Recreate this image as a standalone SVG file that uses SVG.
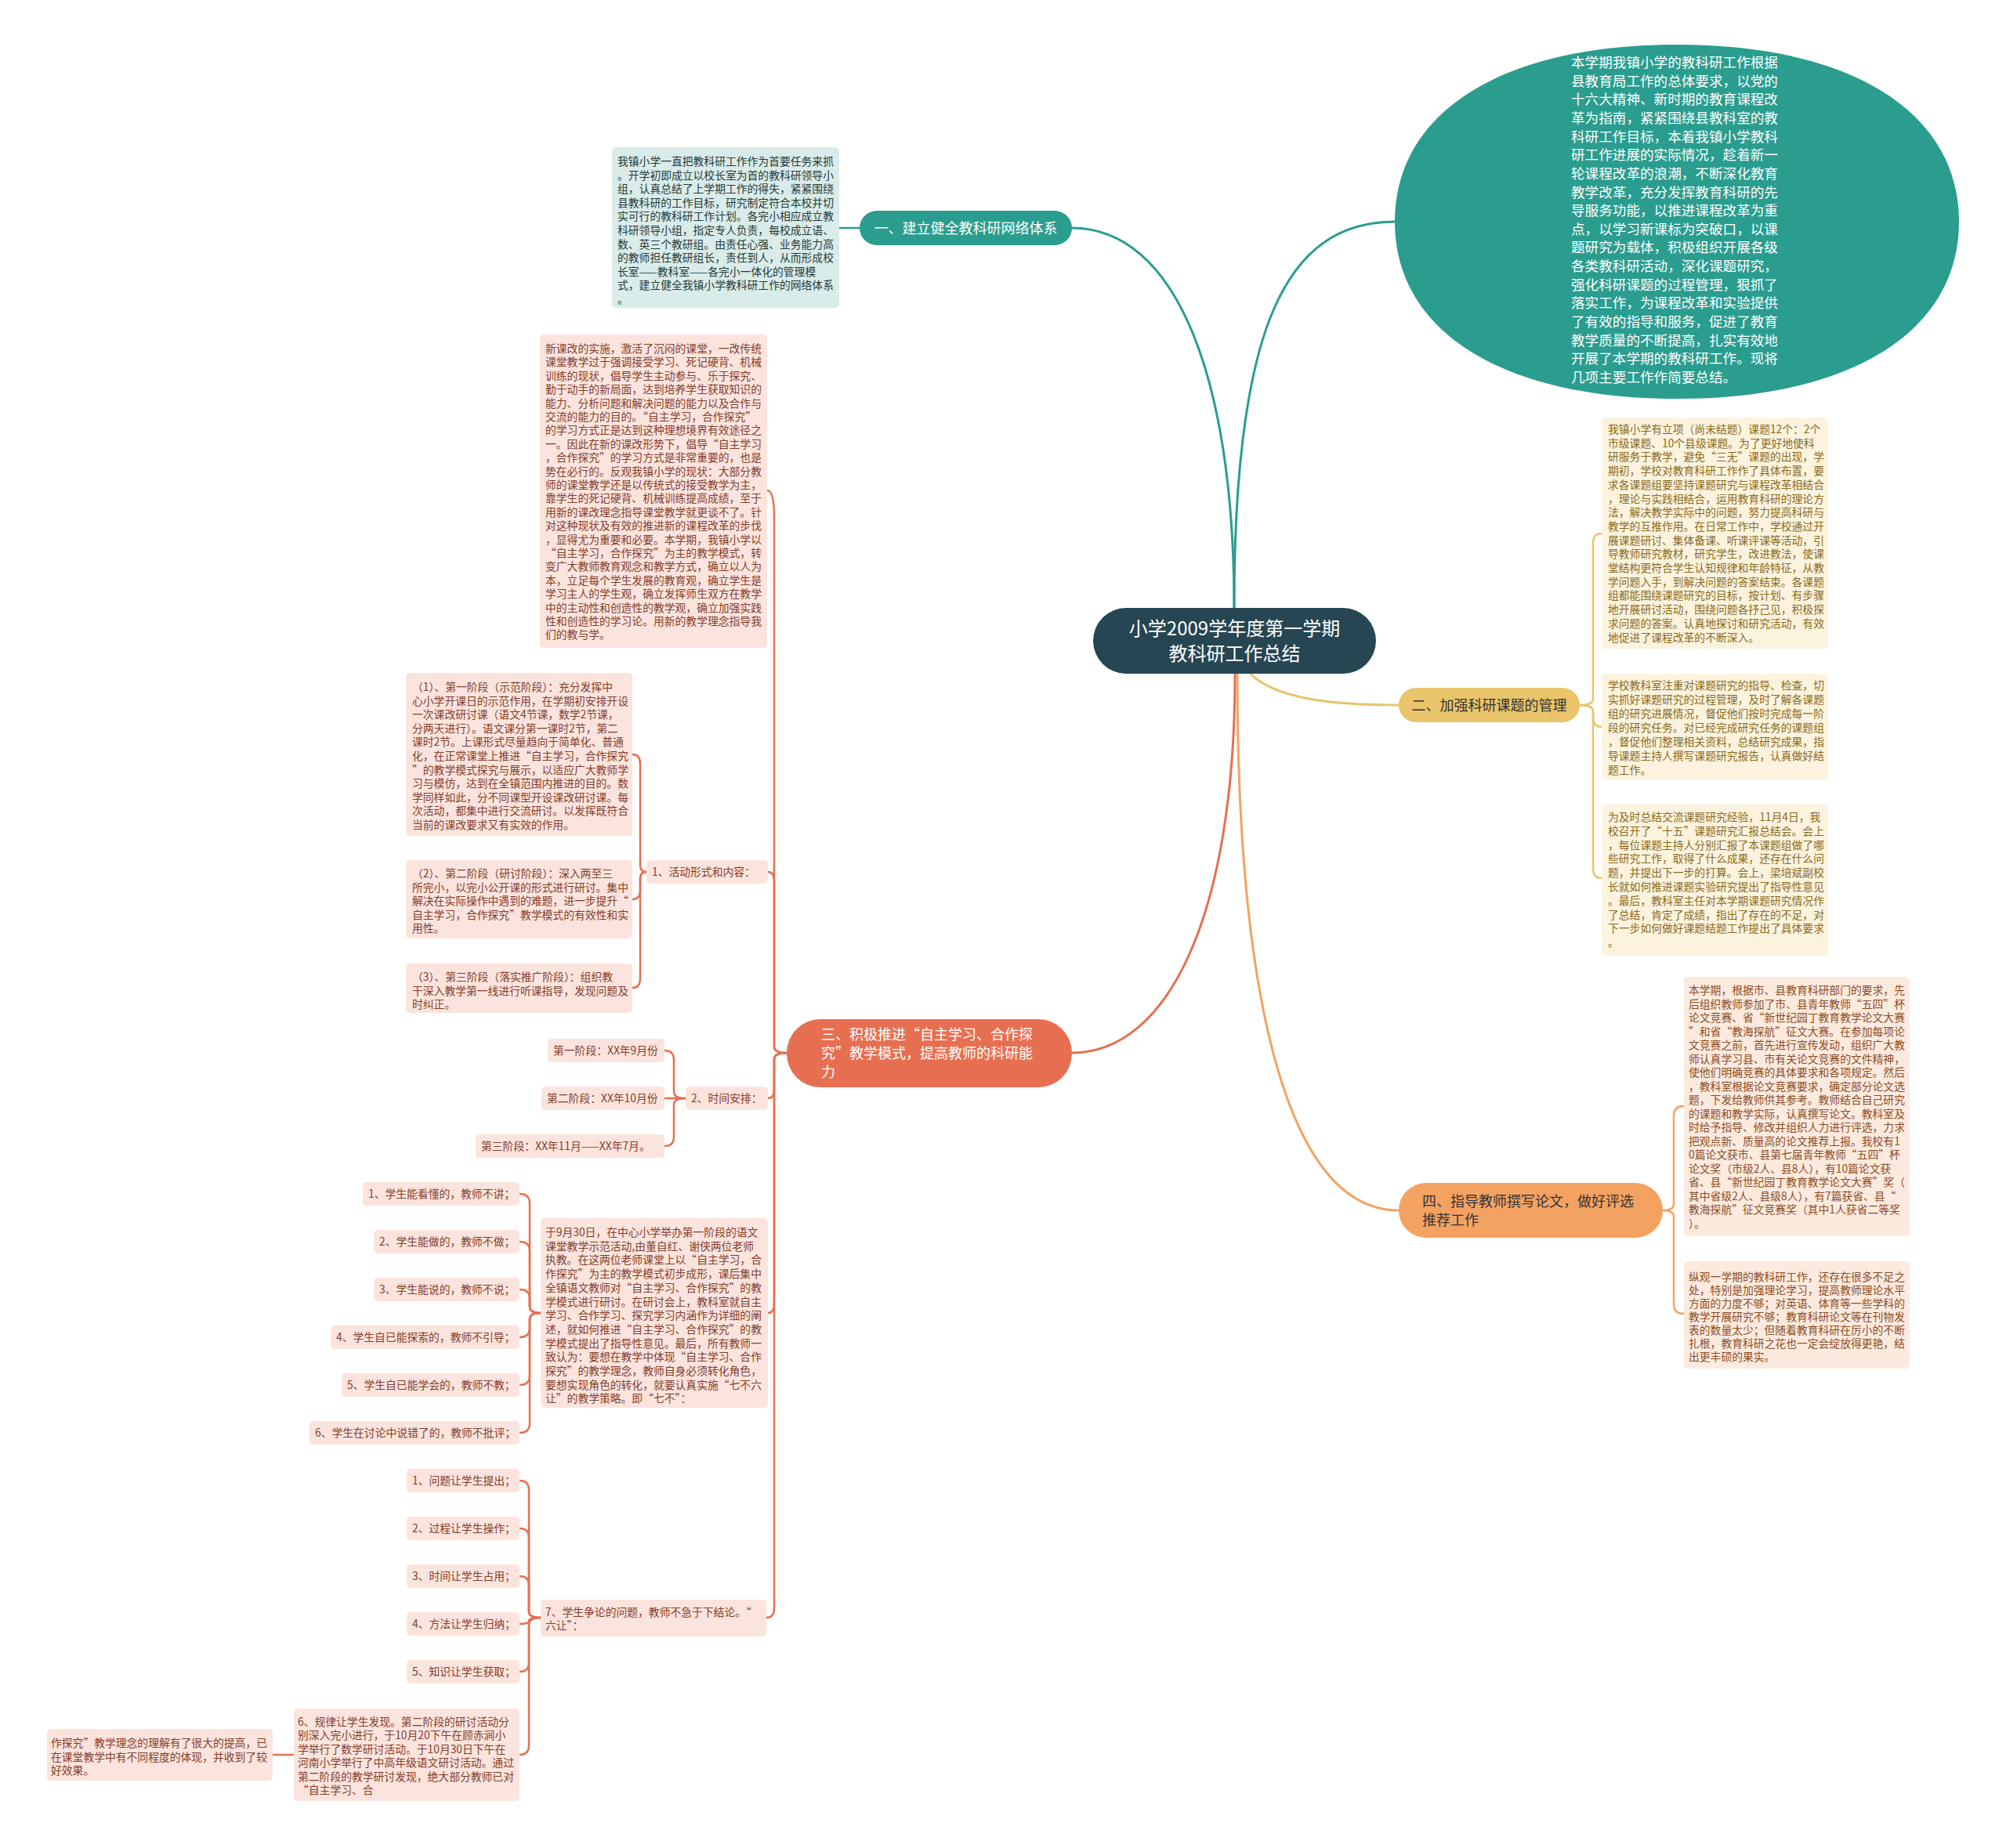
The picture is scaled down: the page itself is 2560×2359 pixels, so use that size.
<svg xmlns="http://www.w3.org/2000/svg" width="2560" height="2359" viewBox="0 0 2560 2359">
<style>
text{font-family:"Noto Sans CJK SC","Noto Sans",sans-serif;}
.s{font-size:13.8px;}
.m{font-size:18px;}
.teal-t{fill:#263a38;}
.yel-t{fill:#8a6a1c;}
.red-t{fill:#843c2c;}
.org-t{fill:#8b4c25;}
.teal-b{fill:#d9ecea;}
.yel-b{fill:#fcf3df;}
.red-b{fill:#fbe4dd;}
.org-b{fill:#fdeadf;}
.c{fill:none;stroke-width:3;}
.b{fill:none;stroke-width:2.5;}
</style>
<rect width="2560" height="2359" fill="#ffffff"/>
<g id="connectors">
<path class="c" stroke="#2a9d8f" d="M1575 776 C1575 480 1500 291 1368 291"/>
<path class="c" stroke="#2a9d8f" d="M1575 776 C1575 420 1640 283 1780 283"/>
<path class="c" stroke="#e9c46a" d="M1594 858 C1625 892 1700 900 1785 900"/>
<path class="c" stroke="#e76f51" d="M1576 860 C1576 1170 1490 1344 1368 1344"/>
<path class="c" stroke="#f4a261" d="M1579 860 C1579 1300 1650 1545 1785 1545"/>
<path class="b" stroke="#2a9d8f" d="M1097 291 H1071"/>
<g stroke="#e9c46a">
<path class="b" d="M2016 900 Q2033 900 2033 892 V693 Q2033 681 2044 681"/>
<path class="b" d="M2016 900 Q2033 900 2033 908 V916 Q2033 928 2044 928"/>
<path class="b" d="M2016 900 Q2033 900 2033 908 V1109 Q2033 1121 2044 1121"/>
</g>
<g stroke="#f4a261">
<path class="b" d="M2122 1545 Q2136 1545 2136 1537 V1424 Q2136 1412 2149 1412"/>
<path class="b" d="M2122 1545 Q2136 1545 2136 1553 V1665 Q2136 1677 2149 1677"/>
</g>
<g stroke="#e76f51">
<path class="b" d="M1004 1344 Q988 1344 988 1336 V660 Q988 626 979 626"/>
<path class="b" d="M1004 1344 Q988 1344 988 1336 V1125 Q988 1113 980 1113"/>
<path class="b" d="M1004 1344 Q988 1344 988 1352 V1390 Q988 1402 980 1402"/>
<path class="b" d="M1004 1344 Q988 1344 988 1352 V1664 Q988 1676 980 1676"/>
<path class="b" d="M1004 1344 Q988 1344 988 1352 V2053 Q988 2065 978 2065"/>
<path class="b" d="M825 1113 Q817 1113 817 1105 V975 Q817 963 807 963"/>
<path class="b" d="M825 1113 Q817 1113 817 1121 V1136 Q817 1148 807 1148"/>
<path class="b" d="M825 1113 Q817 1113 817 1121 V1249 Q817 1261 807 1261"/>
<path class="b" d="M875 1402 Q860 1402 860 1394 V1353 Q860 1341 848 1341"/>
<path class="b" d="M875 1402 H848"/>
<path class="b" d="M875 1402 Q860 1402 860 1410 V1451 Q860 1463 848 1463"/>
<path class="b" d="M690 1676 Q676 1676 676 1668 V1536 Q676 1524 663 1524"/>
<path class="b" d="M690 1676 Q676 1676 676 1668 V1597 Q676 1585 663 1585"/>
<path class="b" d="M690 1676 Q676 1676 676 1668 V1658 Q676 1646 663 1646"/>
<path class="b" d="M690 1676 Q676 1676 676 1684 V1695 Q676 1707 663 1707"/>
<path class="b" d="M690 1676 Q676 1676 676 1684 V1756 Q676 1768 663 1768"/>
<path class="b" d="M690 1676 Q676 1676 676 1684 V1817 Q676 1829 663 1829"/>
<path class="b" d="M690 2065 Q675 2065 675 2057 V1902 Q675 1890 663 1890"/>
<path class="b" d="M690 2065 Q675 2065 675 2057 V1963 Q675 1951 663 1951"/>
<path class="b" d="M690 2065 Q675 2065 675 2057 V2024 Q675 2012 663 2012"/>
<path class="b" d="M690 2065 Q675 2065 675 2069 Q675 2073 663 2073"/>
<path class="b" d="M690 2065 Q675 2065 675 2073 V2122 Q675 2134 663 2134"/>
<path class="b" d="M690 2065 Q675 2065 675 2073 V2228 Q675 2240 663 2240"/>
<path class="b" d="M375 2240 H348"/>
</g>
</g>

<g id="center">
<rect x="1395" y="776" width="361" height="84" rx="42" fill="#264653"/>
<text x="1575.5" y="811" font-size="24" fill="#ffffff" text-anchor="middle"><tspan x="1575.5" y="811">小学2009学年度第一学期</tspan><tspan x="1575.5" y="843">教科研工作总结</tspan></text>
</g>

<g id="intro">
<path d="M2140 57 C2363 57 2500 143 2500 283 C2500 423 2363 509 2140 509 C1917 509 1780 423 1780 283 C1780 143 1917 57 2140 57 Z" fill="#2a9d8f"/>
<text x="2005" y="86" font-size="17.6" fill="#ffffff">
<tspan x="2005" dy="0">本学期我镇小学的教科研工作根据</tspan>
<tspan x="2005" dy="23.65">县教育局工作的总体要求，以党的</tspan>
<tspan x="2005" dy="23.65">十六大精神、新时期的教育课程改</tspan>
<tspan x="2005" dy="23.65">革为指南，紧紧围绕县教科室的教</tspan>
<tspan x="2005" dy="23.65">科研工作目标，本着我镇小学教科</tspan>
<tspan x="2005" dy="23.65">研工作进展的实际情况，趁着新一</tspan>
<tspan x="2005" dy="23.65">轮课程改革的浪潮，不断深化教育</tspan>
<tspan x="2005" dy="23.65">教学改革，充分发挥教育科研的先</tspan>
<tspan x="2005" dy="23.65">导服务功能，以推进课程改革为重</tspan>
<tspan x="2005" dy="23.65">点，以学习新课标为突破口，以课</tspan>
<tspan x="2005" dy="23.65">题研究为载体，积极组织开展各级</tspan>
<tspan x="2005" dy="23.65">各类教科研活动，深化课题研究，</tspan>
<tspan x="2005" dy="23.65">强化科研课题的过程管理，狠抓了</tspan>
<tspan x="2005" dy="23.65">落实工作，为课程改革和实验提供</tspan>
<tspan x="2005" dy="23.65">了有效的指导和服务，促进了教育</tspan>
<tspan x="2005" dy="23.65">教学质量的不断提高，扎实有效地</tspan>
<tspan x="2005" dy="23.65">开展了本学期的教科研工作。现将</tspan>
<tspan x="2005" dy="23.65">几项主要工作作简要总结。</tspan>
</text>
</g>

<g id="branch1">
<rect x="1097" y="269" width="271" height="44" rx="22" fill="#2a9d8f"/>
<text class="m" x="1232.5" y="298" fill="#ffffff" text-anchor="middle">一、建立健全教科研网络体系</text>
</g>
<g id="branch1-leaf">
<rect class="teal-b" x="781" y="188" width="290" height="205" rx="5"/>
<text class="s teal-t" x="788" y="211">
<tspan x="788" dy="0">我镇小学一直把教科研工作作为首要任务来抓</tspan>
<tspan x="788" dy="17.6">。开学初即成立以校长室为首的教科研领导小</tspan>
<tspan x="788" dy="17.6">组，认真总结了上学期工作的得失，紧紧围绕</tspan>
<tspan x="788" dy="17.6">县教科研的工作目标，研究制定符合本校并切</tspan>
<tspan x="788" dy="17.6">实可行的教科研工作计划。各完小相应成立教</tspan>
<tspan x="788" dy="17.6">科研领导小组，指定专人负责，每校成立语、</tspan>
<tspan x="788" dy="17.6">数、英三个教研组。由责任心强、业务能力高</tspan>
<tspan x="788" dy="17.6">的教师担任教研组长，责任到人，从而形成校</tspan>
<tspan x="788" dy="17.6">长室——教科室——各完小一体化的管理模</tspan>
<tspan x="788" dy="17.6">式，建立健全我镇小学教科研工作的网络体系</tspan>
<tspan x="788" dy="17.6">。</tspan>
</text>
</g>

<g id="branch2">
<rect x="1785" y="878" width="231" height="44" rx="22" fill="#e9c46a"/>
<text class="m" x="1900.5" y="907" fill="#333333" text-anchor="middle">二、加强科研课题的管理</text>
</g>
<g id="branch2-leaf1">
<rect class="yel-b" x="2044" y="533" width="289" height="295" rx="5"/>
<text class="s yel-t" x="2052" y="553">
<tspan x="2052" dy="0">我镇小学有立项（尚未结题）课题12个：2个</tspan>
<tspan x="2052" dy="17.7">市级课题、10个县级课题。为了更好地使科</tspan>
<tspan x="2052" dy="17.7">研服务于教学，避免“三无”课题的出现，学</tspan>
<tspan x="2052" dy="17.7">期初，学校对教育科研工作作了具体布置，要</tspan>
<tspan x="2052" dy="17.7">求各课题组要坚持课题研究与课程改革相结合</tspan>
<tspan x="2052" dy="17.7">，理论与实践相结合，运用教育科研的理论方</tspan>
<tspan x="2052" dy="17.7">法，解决教学实际中的问题，努力提高科研与</tspan>
<tspan x="2052" dy="17.7">教学的互推作用。在日常工作中，学校通过开</tspan>
<tspan x="2052" dy="17.7">展课题研讨、集体备课、听课评课等活动，引</tspan>
<tspan x="2052" dy="17.7">导教师研究教材，研究学生，改进教法，使课</tspan>
<tspan x="2052" dy="17.7">堂结构更符合学生认知规律和年龄特征，从教</tspan>
<tspan x="2052" dy="17.7">学问题入手，到解决问题的答案结束。各课题</tspan>
<tspan x="2052" dy="17.7">组都能围绕课题研究的目标，按计划、有步骤</tspan>
<tspan x="2052" dy="17.7">地开展研讨活动，围绕问题各抒己见，积极探</tspan>
<tspan x="2052" dy="17.7">求问题的答案。认真地探讨和研究活动，有效</tspan>
<tspan x="2052" dy="17.7">地促进了课程改革的不断深入。</tspan>
</text>
</g>
<g id="branch2-leaf2">
<rect class="yel-b" x="2044" y="860" width="289" height="135" rx="5"/>
<text class="s yel-t" x="2052" y="880">
<tspan x="2052" dy="0">学校教科室注重对课题研究的指导、检查，切</tspan>
<tspan x="2052" dy="18">实抓好课题研究的过程管理，及时了解各课题</tspan>
<tspan x="2052" dy="18">组的研究进展情况，督促他们按时完成每一阶</tspan>
<tspan x="2052" dy="18">段的研究任务。对已经完成研究任务的课题组</tspan>
<tspan x="2052" dy="18">，督促他们整理相关资料，总结研究成果，指</tspan>
<tspan x="2052" dy="18">导课题主持人撰写课题研究报告，认真做好结</tspan>
<tspan x="2052" dy="18">题工作。</tspan>
</text>
</g>
<g id="branch2-leaf3">
<rect class="yel-b" x="2044" y="1027" width="289" height="193" rx="5"/>
<text class="s yel-t" x="2052" y="1048">
<tspan x="2052" dy="0">为及时总结交流课题研究经验，11月4日，我</tspan>
<tspan x="2052" dy="17.8">校召开了“十五”课题研究汇报总结会。会上</tspan>
<tspan x="2052" dy="17.8">，每位课题主持人分别汇报了本课题组做了哪</tspan>
<tspan x="2052" dy="17.8">些研究工作，取得了什么成果，还存在什么问</tspan>
<tspan x="2052" dy="17.8">题，并提出下一步的打算。会上，梁培斌副校</tspan>
<tspan x="2052" dy="17.8">长就如何推进课题实验研究提出了指导性意见</tspan>
<tspan x="2052" dy="17.8">。最后，教科室主任对本学期课题研究情况作</tspan>
<tspan x="2052" dy="17.8">了总结，肯定了成绩，指出了存在的不足，对</tspan>
<tspan x="2052" dy="17.8">下一步如何做好课题结题工作提出了具体要求</tspan>
<tspan x="2052" dy="17.8">。</tspan>
</text>
</g>

<g id="branch4">
<rect x="1785" y="1510" width="337" height="70" rx="35" fill="#f4a261"/>
<text class="m" x="1815" y="1540" fill="#333333"><tspan x="1815" y="1540">四、指导教师撰写论文，做好评选</tspan><tspan x="1815" y="1564">推荐工作</tspan></text>
</g>
<g id="branch4-leaf1">
<rect class="org-b" x="2149" y="1247" width="288" height="331" rx="5"/>
<text class="s org-t" x="2155" y="1269">
<tspan x="2155" dy="0">本学期，根据市、县教育科研部门的要求，先</tspan>
<tspan x="2155" dy="17.5">后组织教师参加了市、县青年教师“五四”杯</tspan>
<tspan x="2155" dy="17.5">论文竞赛、省“新世纪园丁教育教学论文大赛</tspan>
<tspan x="2155" dy="17.5">”和省“教海探航”征文大赛。在参加每项论</tspan>
<tspan x="2155" dy="17.5">文竞赛之前，首先进行宣传发动，组织广大教</tspan>
<tspan x="2155" dy="17.5">师认真学习县、市有关论文竞赛的文件精神，</tspan>
<tspan x="2155" dy="17.5">使他们明确竞赛的具体要求和各项规定。然后</tspan>
<tspan x="2155" dy="17.5">，教科室根据论文竞赛要求，确定部分论文选</tspan>
<tspan x="2155" dy="17.5">题，下发给教师供其参考。教师结合自己研究</tspan>
<tspan x="2155" dy="17.5">的课题和教学实际，认真撰写论文。教科室及</tspan>
<tspan x="2155" dy="17.5">时给予指导、修改并组织人力进行评选，力求</tspan>
<tspan x="2155" dy="17.5">把观点新、质量高的论文推荐上报。我校有1</tspan>
<tspan x="2155" dy="17.5">0篇论文获市、县第七届青年教师“五四”杯</tspan>
<tspan x="2155" dy="17.5">论文奖（市级2人、县8人），有10篇论文获</tspan>
<tspan x="2155" dy="17.5">省、县“新世纪园丁教育教学论文大赛”奖（</tspan>
<tspan x="2155" dy="17.5">其中省级2人、县级8人），有7篇获省、县“</tspan>
<tspan x="2155" dy="17.5">教海探航”征文竞赛奖（其中1人获省二等奖</tspan>
<tspan x="2155" dy="17.5">）。</tspan>
</text>
</g>
<g id="branch4-leaf2">
<rect class="org-b" x="2149" y="1610" width="288" height="137" rx="5"/>
<text class="s org-t" x="2155" y="1635">
<tspan x="2155" dy="0">纵观一学期的教科研工作，还存在很多不足之</tspan>
<tspan x="2155" dy="17">处，特别是加强理论学习，提高教师理论水平</tspan>
<tspan x="2155" dy="17">方面的力度不够；对英语、体育等一些学科的</tspan>
<tspan x="2155" dy="17">教学开展研究不够；教育科研论文等在刊物发</tspan>
<tspan x="2155" dy="17">表的数量太少；但随着教育科研在厉小的不断</tspan>
<tspan x="2155" dy="17">扎根，教育科研之花也一定会绽放得更艳，结</tspan>
<tspan x="2155" dy="17">出更丰硕的果实。</tspan>
</text>
</g>

<g id="branch3">
<rect x="1004" y="1301" width="364" height="87" rx="43" fill="#e76f51"/>
<text class="m" x="1048" y="1327" fill="#ffffff"><tspan x="1048" y="1327">三、积极推进“自主学习、合作探</tspan><tspan x="1048" y="1351">究”教学模式，提高教师的科研能</tspan><tspan x="1048" y="1375">力</tspan></text>
</g>
<g id="b3-intro">
<rect class="red-b" x="689" y="427" width="290" height="400" rx="5"/>
<text class="s red-t" x="696" y="450">
<tspan x="696" dy="0">新课改的实施，激活了沉闷的课堂，一改传统</tspan>
<tspan x="696" dy="17.4">课堂教学过于强调接受学习、死记硬背、机械</tspan>
<tspan x="696" dy="17.4">训练的现状，倡导学生主动参与、乐于探究、</tspan>
<tspan x="696" dy="17.4">勤于动手的新局面，达到培养学生获取知识的</tspan>
<tspan x="696" dy="17.4">能力、分析问题和解决问题的能力以及合作与</tspan>
<tspan x="696" dy="17.4">交流的能力的目的。“自主学习，合作探究”</tspan>
<tspan x="696" dy="17.4">的学习方式正是达到这种理想境界有效途径之</tspan>
<tspan x="696" dy="17.4">一。因此在新的课改形势下，倡导“自主学习</tspan>
<tspan x="696" dy="17.4">，合作探究”的学习方式是非常重要的，也是</tspan>
<tspan x="696" dy="17.4">势在必行的。反观我镇小学的现状：大部分教</tspan>
<tspan x="696" dy="17.4">师的课堂教学还是以传统式的接受教学为主，</tspan>
<tspan x="696" dy="17.4">靠学生的死记硬背、机械训练提高成绩，至于</tspan>
<tspan x="696" dy="17.4">用新的课改理念指导课堂教学就更谈不了。针</tspan>
<tspan x="696" dy="17.4">对这种现状及有效的推进新的课程改革的步伐</tspan>
<tspan x="696" dy="17.4">，显得尤为重要和必要。本学期，我镇小学以</tspan>
<tspan x="696" dy="17.4">“自主学习，合作探究”为主的教学模式，转</tspan>
<tspan x="696" dy="17.4">变广大教师教育观念和教学方式，确立以人为</tspan>
<tspan x="696" dy="17.4">本，立足每个学生发展的教育观，确立学生是</tspan>
<tspan x="696" dy="17.4">学习主人的学生观，确立发挥师生双方在教学</tspan>
<tspan x="696" dy="17.4">中的主动性和创造性的教学观，确立加强实践</tspan>
<tspan x="696" dy="17.4">性和创造性的学习论。用新的教学理念指导我</tspan>
<tspan x="696" dy="17.4">们的教与学。</tspan>
</text>
</g>

<g id="b3-activity">
<rect class="red-b" x="825" y="1098" width="155" height="30" rx="5"/>
<text class="s red-t" x="832" y="1118">1、活动形式和内容：</text>
</g>
<g id="b3-stage1">
<rect class="red-b" x="518" y="859" width="289" height="208" rx="5"/>
<text class="s red-t" x="526" y="882">
<tspan x="526" dy="0">（1）、第一阶段（示范阶段）：充分发挥中</tspan>
<tspan x="526" dy="17.6">心小学开课日的示范作用，在学期初安排开设</tspan>
<tspan x="526" dy="17.6">一次课改研讨课（语文4节课，数学2节课，</tspan>
<tspan x="526" dy="17.6">分两天进行）。语文课分第一课时2节，第二</tspan>
<tspan x="526" dy="17.6">课时2节。上课形式尽量趋向于简单化、普通</tspan>
<tspan x="526" dy="17.6">化，在正常课堂上推进“自主学习，合作探究</tspan>
<tspan x="526" dy="17.6">”的教学模式探究与展示，以适应广大教师学</tspan>
<tspan x="526" dy="17.6">习与模仿，达到在全镇范围内推进的目的。数</tspan>
<tspan x="526" dy="17.6">学同样如此，分不同课型开设课改研讨课。每</tspan>
<tspan x="526" dy="17.6">次活动，都集中进行交流研讨。以发挥既符合</tspan>
<tspan x="526" dy="17.6">当前的课改要求又有实效的作用。</tspan>
</text>
</g>
<g id="b3-stage2">
<rect class="red-b" x="518" y="1098" width="289" height="100" rx="5"/>
<text class="s red-t" x="526" y="1120">
<tspan x="526" dy="0">（2）、第二阶段（研讨阶段）：深入两至三</tspan>
<tspan x="526" dy="17.5">所完小，以完小公开课的形式进行研讨。集中</tspan>
<tspan x="526" dy="17.5">解决在实际操作中遇到的难题，进一步提升“</tspan>
<tspan x="526" dy="17.5">自主学习，合作探究”教学模式的有效性和实</tspan>
<tspan x="526" dy="17.5">用性。</tspan>
</text>
</g>
<g id="b3-stage3">
<rect class="red-b" x="518" y="1230" width="289" height="63" rx="5"/>
<text class="s red-t" x="526" y="1252">
<tspan x="526" dy="0">（3）、第三阶段（落实推广阶段）：组织教</tspan>
<tspan x="526" dy="17.5">干深入教学第一线进行听课指导，发现问题及</tspan>
<tspan x="526" dy="17.5">时纠正。</tspan>
</text>
</g>

<g id="b3-time">
<rect class="red-b" x="875" y="1387" width="105" height="30" rx="5"/>
<text class="s red-t" x="882" y="1407">2、时间安排：</text>
</g>
<g id="b3-time1">
<rect class="red-b" x="699" y="1326" width="149" height="30" rx="5"/>
<text class="s red-t" x="706" y="1346">第一阶段：XX年9月份</text>
</g>
<g id="b3-time2">
<rect class="red-b" x="691" y="1387" width="157" height="30" rx="5"/>
<text class="s red-t" x="698" y="1407">第二阶段：XX年10月份</text>
</g>
<g id="b3-time3">
<rect class="red-b" x="607" y="1448" width="241" height="30" rx="5"/>
<text class="s red-t" x="614" y="1468">第三阶段：XX年11月——XX年7月。</text>
</g>

<g id="b3-sept30">
<rect class="red-b" x="690" y="1555" width="290" height="242" rx="5"/>
<text class="s red-t" x="696" y="1578">
<tspan x="696" dy="0">于9月30日，在中心小学举办第一阶段的语文</tspan>
<tspan x="696" dy="17.7">课堂教学示范活动,由董自红、谢侠两位老师</tspan>
<tspan x="696" dy="17.7">执教。在这两位老师课堂上以“自主学习，合</tspan>
<tspan x="696" dy="17.7">作探究”为主的教学模式初步成形，课后集中</tspan>
<tspan x="696" dy="17.7">全镇语文教师对“自主学习、合作探究”的教</tspan>
<tspan x="696" dy="17.7">学模式进行研讨。在研讨会上，教科室就自主</tspan>
<tspan x="696" dy="17.7">学习、合作学习、探究学习内涵作为详细的阐</tspan>
<tspan x="696" dy="17.7">述，就如何推进“自主学习、合作探究”的教</tspan>
<tspan x="696" dy="17.7">学模式提出了指导性意见。最后，所有教师一</tspan>
<tspan x="696" dy="17.7">致认为：要想在教学中体现“自主学习、合作</tspan>
<tspan x="696" dy="17.7">探究”的教学理念，教师自身必须转化角色，</tspan>
<tspan x="696" dy="17.7">要想实现角色的转化，就要认真实施“七不六</tspan>
<tspan x="696" dy="17.7">让”的教学策略。即“七不”：</tspan>
</text>
</g>
<g id="qibu1"><rect class="red-b" x="463" y="1509" width="200" height="30" rx="5"/><text class="s red-t" x="470" y="1529">1、学生能看懂的，教师不讲；</text></g>
<g id="qibu2"><rect class="red-b" x="477" y="1570" width="186" height="30" rx="5"/><text class="s red-t" x="484" y="1590">2、学生能做的，教师不做；</text></g>
<g id="qibu3"><rect class="red-b" x="477" y="1631" width="186" height="30" rx="5"/><text class="s red-t" x="484" y="1651">3、学生能说的，教师不说；</text></g>
<g id="qibu4"><rect class="red-b" x="422" y="1692" width="241" height="30" rx="5"/><text class="s red-t" x="429" y="1712">4、学生自已能探索的，教师不引导；</text></g>
<g id="qibu5"><rect class="red-b" x="436" y="1753" width="227" height="30" rx="5"/><text class="s red-t" x="443" y="1773">5、学生自已能学会的，教师不教；</text></g>
<g id="qibu6"><rect class="red-b" x="395" y="1814" width="268" height="30" rx="5"/><text class="s red-t" x="402" y="1834">6、学生在讨论中说错了的，教师不批评；</text></g>

<g id="b3-liurang">
<rect class="red-b" x="690" y="2042" width="288" height="47" rx="5"/>
<text class="s red-t" x="696" y="2063"><tspan x="696" y="2063">7、学生争论的问题，教师不急于下结论。“</tspan><tspan x="696" y="2080">六让”：</tspan></text>
</g>
<g id="liurang1"><rect class="red-b" x="519" y="1875" width="144" height="30" rx="5"/><text class="s red-t" x="526" y="1895">1、问题让学生提出；</text></g>
<g id="liurang2"><rect class="red-b" x="519" y="1936" width="144" height="30" rx="5"/><text class="s red-t" x="526" y="1956">2、过程让学生操作；</text></g>
<g id="liurang3"><rect class="red-b" x="519" y="1997" width="144" height="30" rx="5"/><text class="s red-t" x="526" y="2017">3、时间让学生占用；</text></g>
<g id="liurang4"><rect class="red-b" x="519" y="2058" width="144" height="30" rx="5"/><text class="s red-t" x="526" y="2078">4、方法让学生归纳；</text></g>
<g id="liurang5"><rect class="red-b" x="519" y="2119" width="144" height="30" rx="5"/><text class="s red-t" x="526" y="2139">5、知识让学生获取；</text></g>
<g id="liurang6">
<rect class="red-b" x="375" y="2181" width="288" height="118" rx="5"/>
<text class="s red-t" x="380" y="2203">
<tspan x="380" dy="0">6、规律让学生发现。第二阶段的研讨活动分</tspan>
<tspan x="380" dy="17.4">别深入完小进行，于10月20下午在顾赤涧小</tspan>
<tspan x="380" dy="17.4">学举行了数学研讨活动。于10月30日下午在</tspan>
<tspan x="380" dy="17.4">河南小学举行了中高年级语文研讨活动。通过</tspan>
<tspan x="380" dy="17.4">第二阶段的教学研讨发现，绝大部分教师已对</tspan>
<tspan x="380" dy="17.4">“自主学习、合</tspan>
</text>
</g>
<g id="liurang6-leaf">
<rect class="red-b" x="60" y="2207" width="288" height="66" rx="5"/>
<text class="s red-t" x="65" y="2230">
<tspan x="65" dy="0">作探究”教学理念的理解有了很大的提高，已</tspan>
<tspan x="65" dy="17.5">在课堂教学中有不同程度的体现，并收到了较</tspan>
<tspan x="65" dy="17.5">好效果。</tspan>
</text>
</g>
</svg>
